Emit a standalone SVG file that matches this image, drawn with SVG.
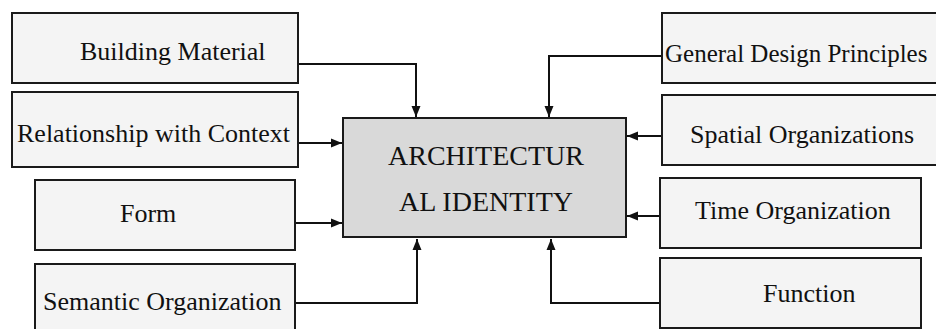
<svg xmlns="http://www.w3.org/2000/svg" width="936" height="329" viewBox="0 0 936 329">
<defs>
<style>
.box{fill:#f4f4f4;stroke:#1a1a1a;stroke-width:2}
.core{fill:#d9d9d9;stroke:#1a1a1a;stroke-width:2}
.t{font-family:'Liberation Serif','Times New Roman',serif;font-size:26px;fill:#111}
.tc{font-family:'Liberation Serif','Times New Roman',serif;font-size:28px;fill:#111;text-anchor:middle}
.c{fill:none;stroke:#111;stroke-width:2}
</style>
<marker id="ah" markerUnits="userSpaceOnUse" markerWidth="12" markerHeight="12" viewBox="0 0 12 12" refX="11" refY="6" orient="auto">
<path d="M0,1.5 L11,6 L0,10.5 Z" fill="#111"/>
</marker>
</defs>
<rect width="936" height="329" fill="#ffffff"/>
<g id="connectors">
<path class="c" d="M298,64 H416 V117" marker-end="url(#ah)"/>
<path class="c" d="M298,143 H342" marker-end="url(#ah)"/>
<path class="c" d="M295,223 H342" marker-end="url(#ah)"/>
<path class="c" d="M295,303 H417 V239" marker-end="url(#ah)"/>
<path class="c" d="M662,56 H549 V117" marker-end="url(#ah)"/>
<path class="c" d="M662,136 H627" marker-end="url(#ah)"/>
<path class="c" d="M660,216 H627" marker-end="url(#ah)"/>
<path class="c" d="M660,303 H551 V239" marker-end="url(#ah)"/>
</g>
<g id="core">
<rect class="core" x="343" y="118" width="283" height="119"/>
<text class="tc" x="486" y="165">ARCHITECTUR</text>
<text class="tc" x="486" y="211">AL IDENTITY</text>
</g>
<g id="building-material">
<rect class="box" x="12" y="13" width="286" height="70"/>
<text class="t" x="80" y="60">Building Material</text>
</g>
<g id="relationship-context">
<rect class="box" x="12" y="92" width="286" height="75"/>
<text class="t" x="17" y="142">Relationship with Context</text>
</g>
<g id="form">
<rect class="box" x="35" y="180" width="260" height="70"/>
<text class="t" x="120" y="222">Form</text>
</g>
<g id="semantic-organization">
<rect class="box" x="35" y="264" width="260" height="80"/>
<text class="t" x="43" y="310">Semantic Organization</text>
</g>
<g id="general-design-principles">
<rect class="box" x="662" y="13" width="290" height="70"/>
<text class="t" x="665" y="62" style="font-size:25px">General Design Principles</text>
</g>
<g id="spatial-organizations">
<rect class="box" x="662" y="95" width="290" height="70"/>
<text class="t" x="690" y="143">Spatial Organizations</text>
</g>
<g id="time-organization">
<rect class="box" x="660" y="178" width="261" height="70"/>
<text class="t" x="695" y="219">Time Organization</text>
</g>
<g id="function">
<rect class="box" x="660" y="258" width="261" height="70"/>
<text class="t" x="763" y="302">Function</text>
</g>
</svg>
